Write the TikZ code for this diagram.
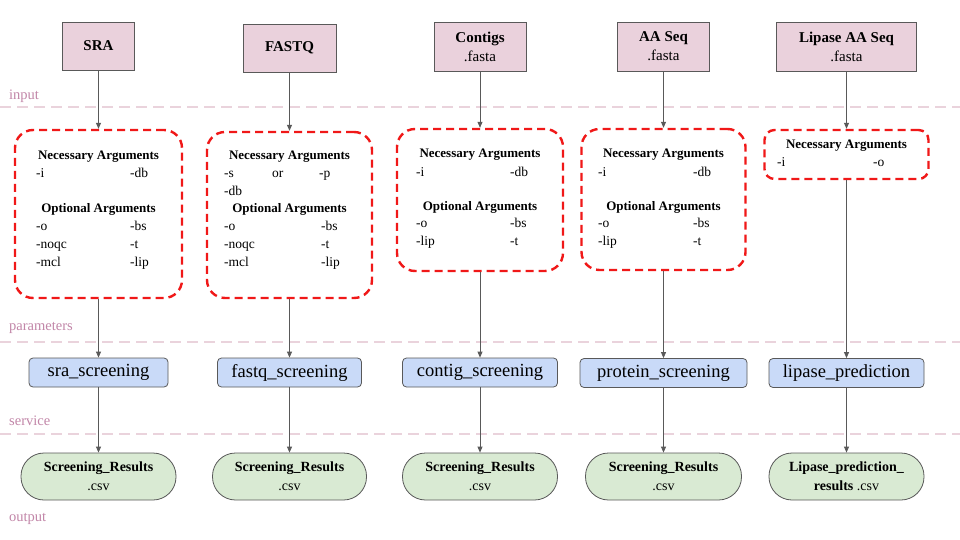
\documentclass[tikz,border=0pt]{standalone}
\usepackage{fontspec}
\setmainfont{Liberation Serif}
\usetikzlibrary{arrows.meta}
\definecolor{pinkfill}{HTML}{EAD1DC}
\definecolor{bluefill}{HTML}{C9DAF8}
\definecolor{greenfill}{HTML}{D9EAD3}
\definecolor{edge}{HTML}{595959}
\definecolor{redd}{HTML}{F01818}
\definecolor{layerc}{HTML}{EAD3DC}
\definecolor{lblc}{HTML}{C286A8}
\tikzset{
  topbox/.style={draw=edge, fill=pinkfill, line width=0.8pt, align=center, inner sep=0pt, font=\fontsize{15}{19}\selectfont},
  parbox/.style={draw=redd, line width=2.4pt, dash pattern=on 8pt off 5pt, rounded corners=18pt, inner sep=0pt},
  svc/.style={draw=edge, fill=bluefill, line width=0.8pt, rounded corners=4pt, inner sep=0pt, minimum height=29pt, font=\fontsize{18.5}{20}\selectfont},
  outn/.style={draw=edge, fill=greenfill, line width=0.8pt, rounded corners=23pt, inner sep=0pt, minimum height=47pt, align=center, font=\fontsize{14}{19}\selectfont},
  arr/.style={draw=edge, line width=0.8pt, -{Triangle[length=6pt,width=5pt]}},
  layerline/.style={draw=layerc, line width=1.8pt, dash pattern=on 11pt off 6pt},
  layerlbl/.style={text=lblc, font=\fontsize{14.5}{16}\selectfont, anchor=west, inner sep=0pt},
  argt/.style={anchor=west, inner sep=0pt, text height=9pt, text depth=3pt, font=\fontsize{13.5}{15}\selectfont},
  argh/.style={anchor=center, inner sep=0pt, text height=9pt, text depth=3pt, font=\fontsize{13}{15}\selectfont\bfseries},
}
\begin{document}
\begin{tikzpicture}[x=1pt,y=-1pt]
\useasboundingbox (0,0) rectangle (960,540);
\fill[white] (0,0) rectangle (960,540);

% layer lines and labels
\coordinate (l1a) at (0,107); \coordinate (l1b) at (960,107);
\coordinate (l2a) at (0,342); \coordinate (l2b) at (960,342);
\coordinate (l3a) at (0,434); \coordinate (l3b) at (960,434);
\draw[layerline] (l1a) -- (l1b);
\draw[layerline] (l2a) -- (l2b);
\draw[layerline] (l3a) -- (l3b);
\node[layerlbl] (lin) at (9,96) {input};
\node[layerlbl] (lpar) at (9,328) {parameters};
\node[layerlbl] (lsvc) at (9,421) {service};
\node[layerlbl] (lout) at (9,519) {output};

% top input boxes
\node[topbox, minimum width=72pt, minimum height=48pt] (t1) at (98.5,46) {\textbf{SRA}};
\node[topbox, minimum width=93pt, minimum height=48pt] (t2) at (289.5,48) {\textbf{FASTQ}};
\node[topbox, minimum width=92pt, minimum height=49pt] (t3) at (480,46.5) {\textbf{Contigs}\\.fasta};
\node[topbox, minimum width=92pt, minimum height=49pt] (t4) at (663.5,46.5) {\textbf{AA Seq}\\.fasta};
\node[topbox, minimum width=140pt, minimum height=49pt] (t5) at (846.5,46.5) {\textbf{Lipase AA Seq}\\.fasta};

% parameter boxes
\node[parbox, minimum width=167pt, minimum height=168pt] (p1) at (98.5,214) {};
\node[parbox, minimum width=165pt, minimum height=166pt] (p2) at (289.5,215) {};
\node[parbox, minimum width=166pt, minimum height=142pt] (p3) at (480,200) {};
\node[parbox, minimum width=164pt, minimum height=141pt] (p4) at (663.5,199.5) {};
\node[parbox, rounded corners=10pt, minimum width=164pt, minimum height=49pt] (p5) at (846.5,154.5) {};

% box 1 text
\node[argh] (p1n) at (98.5,157) {Necessary Arguments};
\node[argt] (p1a) at (36,175) {-i};
\node[argt] (p1b) at (130,175) {-db};
\node[argh] (p1o) at (98.5,209) {Optional Arguments};
\node[argt] (p1c) at (36,227) {-o};
\node[argt] (p1d) at (130,227) {-bs};
\node[argt] (p1e) at (36,245) {-noqc};
\node[argt] (p1f) at (130,245) {-t};
\node[argt] (p1g) at (36,263) {-mcl};
\node[argt] (p1h) at (130,263) {-lip};

% box 2 text
\node[argh] (p2n) at (289.5,157) {Necessary Arguments};
\node[argt] (p2a) at (224,175) {-s};
\node[argt] (p2b) at (272,175) {or};
\node[argt] (p2c) at (319,175) {-p};
\node[argt] (p2d) at (224,192) {-db};
\node[argh] (p2o) at (289.5,209) {Optional Arguments};
\node[argt] (p2e) at (224,227) {-o};
\node[argt] (p2f) at (321,227) {-bs};
\node[argt] (p2g) at (224,245) {-noqc};
\node[argt] (p2h) at (321,245) {-t};
\node[argt] (p2i) at (224,263) {-mcl};
\node[argt] (p2j) at (321,263) {-lip};

% box 3 text
\node[argh] (p3n) at (480,155) {Necessary Arguments};
\node[argt] (p3a) at (416,173) {-i};
\node[argt] (p3b) at (510,173) {-db};
\node[argh] (p3o) at (480,207) {Optional Arguments};
\node[argt] (p3c) at (416,224) {-o};
\node[argt] (p3d) at (510,224) {-bs};
\node[argt] (p3e) at (416,242) {-lip};
\node[argt] (p3f) at (510,242) {-t};

% box 4 text
\node[argh] (p4n) at (663.5,155) {Necessary Arguments};
\node[argt] (p4a) at (598,173) {-i};
\node[argt] (p4b) at (693,173) {-db};
\node[argh] (p4o) at (663.5,207) {Optional Arguments};
\node[argt] (p4c) at (598,224) {-o};
\node[argt] (p4d) at (693,224) {-bs};
\node[argt] (p4e) at (598,242) {-lip};
\node[argt] (p4f) at (693,242) {-t};

% box 5 text
\node[argh] (p5n) at (846.5,146) {Necessary Arguments};
\node[argt] (p5a) at (777,164) {-i};
\node[argt] (p5b) at (873,164) {-o};

% service boxes
\node[svc, minimum width=139pt] (s1) at (98.5,372.5) {sra\_screening};
\node[svc, minimum width=144pt] (s2) at (289.5,372.5) {fastq\_screening};
\node[svc, minimum width=155pt] (s3) at (480,372.5) {contig\_screening};
\node[svc, minimum width=167pt] (s4) at (663.5,373) {protein\_screening};
\node[svc, minimum width=155pt] (s5) at (846.5,373) {lipase\_prediction};

% output nodes
\node[outn, minimum width=155pt] (o1) at (98.5,476.5) {\textbf{Screening\_Results}\\.csv};
\node[outn, minimum width=154pt] (o2) at (289.5,476.5) {\textbf{Screening\_Results}\\.csv};
\node[outn, minimum width=155pt] (o3) at (480,476.5) {\textbf{Screening\_Results}\\.csv};
\node[outn, minimum width=156pt] (o4) at (663.5,476.5) {\textbf{Screening\_Results}\\.csv};
\node[outn, minimum width=155pt] (o5) at (846.5,476.5) {\textbf{Lipase\_prediction\_}\\\textbf{results} .csv};

% connectors
\foreach \i in {1,...,5}{
  \draw[arr] (t\i.south) -- (t\i.south |- p\i.north);
  \draw[arr] (p\i.south) -- (p\i.south |- s\i.north);
  \draw[arr] (s\i.south) -- (s\i.south |- o\i.north);
}
\end{tikzpicture}
\end{document}
